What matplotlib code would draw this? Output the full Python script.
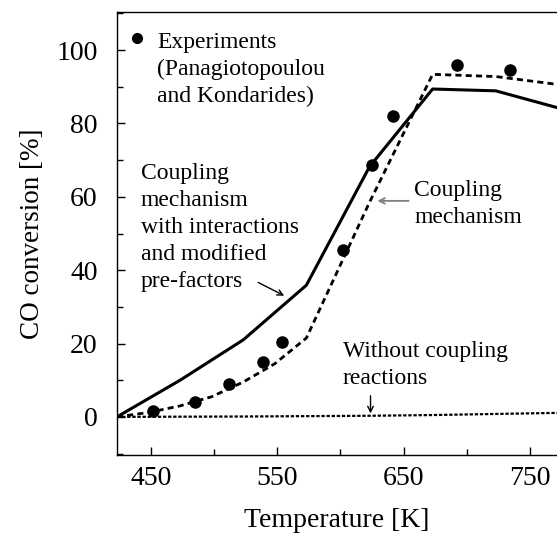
import numpy as np
import matplotlib
matplotlib.use("Agg")
import matplotlib.pyplot as plt
from matplotlib.ticker import MultipleLocator

plt.rcParams['font.family'] = ['Liberation Serif', 'DejaVu Serif']

# experiments (Panagiotopoulou and Kondarides)
exp_T = [451.5, 484.7, 512, 538.4, 553.4, 602.4, 624.6, 642, 692.6, 734.5]
exp_X = [1.5, 4.0, 8.9, 14.9, 20.4, 45.4, 68.6, 82.0, 95.9, 94.5]

# coupling mechanism with interactions and modified pre-factors
int_T = [423, 473, 523, 573, 623, 673, 723, 773]
int_X = [0, 10.0, 21.0, 35.9, 68.2, 89.4, 88.9, 84.2]

# coupling mechanism
cpl_T = [423, 448, 473, 498, 523, 548, 573, 623, 673, 723, 773]
cpl_X = [0, 1.2, 3.0, 5.5, 9.5, 14.5, 21.5, 58.5, 93.4, 92.8, 90.6]

# without coupling reactions
noc_T = [423, 523, 623, 673, 723, 773]
noc_X = [0, 0.1, 0.3, 0.5, 0.8, 1.1]

fig = plt.figure(figsize=(5.57, 5.33), dpi=100)
ax = fig.add_axes([0.210, 0.1463, 0.790, 0.8312])

ax.plot(noc_T, noc_X, color='black', lw=1.6, ls=(0, (1.5, 0.8)))
ax.plot(cpl_T, cpl_X, color='black', lw=2.0, ls=(0, (2.2, 1.5)))
ax.plot(int_T, int_X, color='black', lw=2.2, ls='-')
ax.plot(exp_T, exp_X, 'o', color='black', ms=8)

ax.set_xlim(423, 771.5)
ax.set_ylim(-10.4, 110.4)
ax.set_xticks([450, 550, 650, 750])
ax.xaxis.set_minor_locator(MultipleLocator(50))
ax.yaxis.set_major_locator(MultipleLocator(20))
ax.yaxis.set_minor_locator(MultipleLocator(10))
ax.tick_params(which='both', direction='in', labelsize=20, width=1.0)
ax.tick_params(which='major', length=6)
ax.tick_params(which='minor', length=4.5)
ax.tick_params(axis='x', pad=8)
ax.tick_params(axis='y', pad=14)
ax.spines['right'].set_visible(False)
for s in ['left', 'top', 'bottom']:
    ax.spines[s].set_linewidth(1.0)

ax.set_xlabel('Temperature [K]', fontsize=20, labelpad=12)
ax.set_ylabel('CO conversion [%]', fontsize=19.5, labelpad=8)

fs = 17
ls = 1.38
ax.plot([438.8], [103.3], 'o', color='black', ms=7)
ax.text(454.6, 105.0, 'Experiments\n(Panagiotopoulou\nand Kondarides)',
        fontsize=fs, va='top', ha='left', linespacing=ls)
ax.text(442, 69.3, 'Coupling\nmechanism\nwith interactions\nand modified\npre-factors',
        fontsize=fs, va='top', ha='left', linespacing=ls)
ax.text(658.6, 64.6, 'Coupling\nmechanism', fontsize=fs, va='top', ha='left',
        linespacing=ls)
ax.text(601.7, 20.8, 'Without coupling\nreactions', fontsize=fs, va='top',
        ha='left', linespacing=ls)

ax.annotate('', xy=(557.4, 32.7), xytext=(532.9, 37.0),
            arrowprops=dict(arrowstyle='->', color='black', lw=1.0))
ax.annotate('', xy=(627, 58.9), xytext=(656.2, 58.9),
            arrowprops=dict(arrowstyle='->', color='#808080', lw=1.3))
ax.annotate('', xy=(623.8, 0.2), xytext=(623.8, 6.5),
            arrowprops=dict(arrowstyle='->', color='black', lw=1.0))

fig.savefig('out.png', dpi=100)
